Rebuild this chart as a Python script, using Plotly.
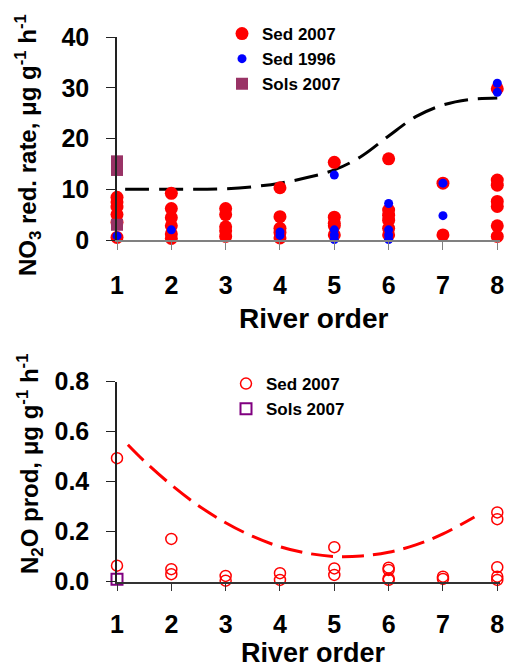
import plotly.graph_objects as go

# ---------------- data (top panel: NO3 reduction rate) ----------------
sed07_x = [1]*6 + [2]*6 + [3]*5 + [4]*5 + [5]*5 + [6]*6 + [7]*2 + [8]*7
sed07_y = [8.4, 7.5, 6.5, 5.0, 3.5, 0.5,
           9.2, 6.2, 4.4, 2.8, 1.2, 0.3,
           6.2, 5.0, 2.6, 1.8, 0.7,
           10.3, 4.6, 2.3, 1.5, 0.4,
           15.3, 4.5, 3.3, 2.8, 1.0,
           16.0, 5.9, 4.9, 3.9, 2.3, 1.0,
           11.2, 1.0,
           29.8, 11.8, 10.8, 7.6, 6.6, 2.8, 0.7]

sed96_x = [1, 2, 4, 4, 5, 5, 5, 5, 6, 6, 6, 6, 7, 7, 8, 8]
sed96_y = [0.8, 2.0, 0.9, 1.6, 12.8, 2.0, 1.0, 0.1, 7.2, 2.0, 1.0, 0.1, 11.2, 4.8, 30.9, 29.1]

sols07_x = [1, 1, 1]
sols07_y = [15.5, 13.8, 3.0]

fit_top_x = [1.15, 1.5, 2, 2.5, 3, 3.5, 4, 4.5, 5, 5.5, 6, 6.5, 7, 7.5, 8]
fit_top_y = [10.0, 10.0, 10.0, 10.0, 10.1, 10.5, 11.2, 12.3, 13.8, 16.5, 20.5, 24.3, 26.6, 27.7, 28.0]

# ---------------- data (bottom panel: N2O production) ----------------
n2o_x = [1]*2 + [2]*3 + [3]*2 + [4]*2 + [5]*3 + [6]*4 + [7]*2 + [8]*5
n2o_y = [0.494, 0.064,
         0.171, 0.050, 0.030,
         0.023, 0.004,
         0.034, 0.007,
         0.138, 0.053, 0.027,
         0.056, 0.047, 0.013, 0.007,
         0.020, 0.011,
         0.277, 0.250, 0.058, 0.020, 0.007]
n2o_sols_x = [1]
n2o_sols_y = [0.010]

fit_bot_x = [1.2, 1.5, 2, 2.5, 3, 3.5, 4, 4.5, 5, 5.5, 6, 6.5, 7, 7.58]
fit_bot_y = [0.548, 0.483, 0.387, 0.304, 0.236, 0.181, 0.140, 0.114, 0.101, 0.103, 0.118, 0.147, 0.191, 0.259]

x_ticks = [1, 2, 3, 4, 5, 6, 7, 8]
top_yticks = [0, 10, 20, 30, 40]
bot_yticks = [0.0, 0.2, 0.4, 0.6, 0.8]
bot_yticklabels = ["0.0", "0.2", "0.4", "0.6", "0.8"]

# ---------------- figure ----------------
W, H = 509, 669
FONT = "Liberation Sans, Arial, sans-serif"
RED = "#FF0000"
BLUE = "#0000FF"
PLUM = "#993366"
PURPLE = "#800080"

fig = go.Figure()

fig.add_trace(go.Scatter(x=fit_top_x, y=fit_top_y, mode="lines", line=dict(color="black", width=3, dash="24px,10px", shape="spline"),
                         showlegend=False, xaxis="x", yaxis="y", cliponaxis=False))
fig.add_trace(go.Scatter(x=sed07_x, y=sed07_y, mode="markers", name="Sed 2007",
                         marker=dict(color=RED, size=13, symbol="circle"), xaxis="x", yaxis="y",
                         cliponaxis=False, legend="legend"))
fig.add_trace(go.Scatter(x=sed96_x, y=sed96_y, mode="markers", name="Sed 1996",
                         marker=dict(color=BLUE, size=9, symbol="circle"), xaxis="x", yaxis="y",
                         cliponaxis=False, legend="legend"))
fig.add_trace(go.Scatter(x=sols07_x, y=sols07_y, mode="markers", name="Sols 2007",
                         marker=dict(color=PLUM, size=12, symbol="square"), xaxis="x", yaxis="y",
                         cliponaxis=False, legend="legend"))

fig.add_trace(go.Scatter(x=fit_bot_x, y=fit_bot_y, mode="lines", line=dict(color=RED, width=3, dash="22px,9px", shape="spline"),
                         showlegend=False, xaxis="x2", yaxis="y2", cliponaxis=False))
fig.add_trace(go.Scatter(x=n2o_x, y=n2o_y, mode="markers", name="Sed 2007",
                         marker=dict(color=RED, size=11, symbol="circle-open", line=dict(width=1.5)),
                         xaxis="x2", yaxis="y2", cliponaxis=False, legend="legend2"))
fig.add_trace(go.Scatter(x=n2o_sols_x, y=n2o_sols_y, mode="markers", name="Sols 2007",
                         marker=dict(color=PURPLE, size=11, symbol="square-open", line=dict(width=2)),
                         xaxis="x2", yaxis="y2", cliponaxis=False, legend="legend2"))

xdom = [117 / W, 500 / W]
top_dom = [1 - 240 / H, 1 - 37 / H]
bot_dom = [1 - 581.7 / H, 1 - 381.7 / H]

tickfont = dict(family=FONT, size=25, color="black", weight="bold")

common_x = dict(range=[1, 8.05], tickvals=x_ticks, ticks="outside", ticklen=8, tickwidth=1,
                showline=True, linewidth=1.5, showgrid=False, zeroline=False, tickfont=tickfont,
                fixedrange=True, automargin=False)

fig.update_layout(
    template="none",
    width=W, height=H, margin=dict(l=0, r=0, t=0, b=0, autoexpand=False),
    paper_bgcolor="white", plot_bgcolor="white",
    xaxis=dict(domain=xdom, anchor="y", linecolor="#808080", tickcolor="#808080", ticklabelstandoff=14, **common_x),
    yaxis=dict(domain=top_dom, anchor="x", range=[0, 40], tickvals=top_yticks, ticks="outside", ticklen=9,
               showline=True, linecolor="#222", linewidth=1.5, tickcolor="#222", showgrid=False, zeroline=False,
               tickfont=tickfont, ticklabelstandoff=12, automargin=False),
    xaxis2=dict(domain=xdom, anchor="y2", linecolor="#333", tickcolor="#333", ticklabelstandoff=12, **common_x),
    yaxis2=dict(domain=bot_dom, anchor="x2", range=[0, 0.8], tickvals=bot_yticks, ticktext=bot_yticklabels,
                ticks="outside", ticklen=9, showline=True, linecolor="#222", linewidth=1.5, tickcolor="#222",
                showgrid=False, zeroline=False, tickfont=tickfont, ticklabelstandoff=12, automargin=False),
    legend=dict(x=222 / W, y=1 - 16 / H, xanchor="left", yanchor="top", bgcolor="rgba(0,0,0,0)",
                font=dict(family=FONT, size=17, color="black", weight="bold"), tracegroupgap=0,
                itemwidth=30),
    legend2=dict(x=226 / W, y=1 - 366 / H, xanchor="left", yanchor="top", bgcolor="rgba(0,0,0,0)",
                 font=dict(family=FONT, size=17, color="black", weight="bold"), tracegroupgap=0,
                 itemwidth=30),
    annotations=[
        dict(text="River order", x=313 / W, y=1 - 318 / H, xref="paper", yref="paper", showarrow=False,
             xanchor="center", yanchor="middle", font=dict(family=FONT, size=28, color="black", weight="bold")),
        dict(text="River order", x=313 / W, y=1 - 653 / H, xref="paper", yref="paper", showarrow=False,
             xanchor="center", yanchor="middle", font=dict(family=FONT, size=27, color="black", weight="bold")),
        dict(text="NO<sub>3</sub> red. rate, μg g<sup>-1</sup> h<sup>-1</sup>", x=28 / W, y=1 - 145 / H,
             xref="paper", yref="paper", showarrow=False, textangle=-90, xanchor="center", yanchor="middle",
             font=dict(family=FONT, size=24, color="black", weight="bold")),
        dict(text="N<sub>2</sub>O prod, μg g<sup>-1</sup> h<sup>-1</sup>", x=30 / W, y=1 - 464 / H,
             xref="paper", yref="paper", showarrow=False, textangle=-90, xanchor="center", yanchor="middle",
             font=dict(family=FONT, size=24, color="black", weight="bold")),
    ],
)

fig.write_html("out.html")
